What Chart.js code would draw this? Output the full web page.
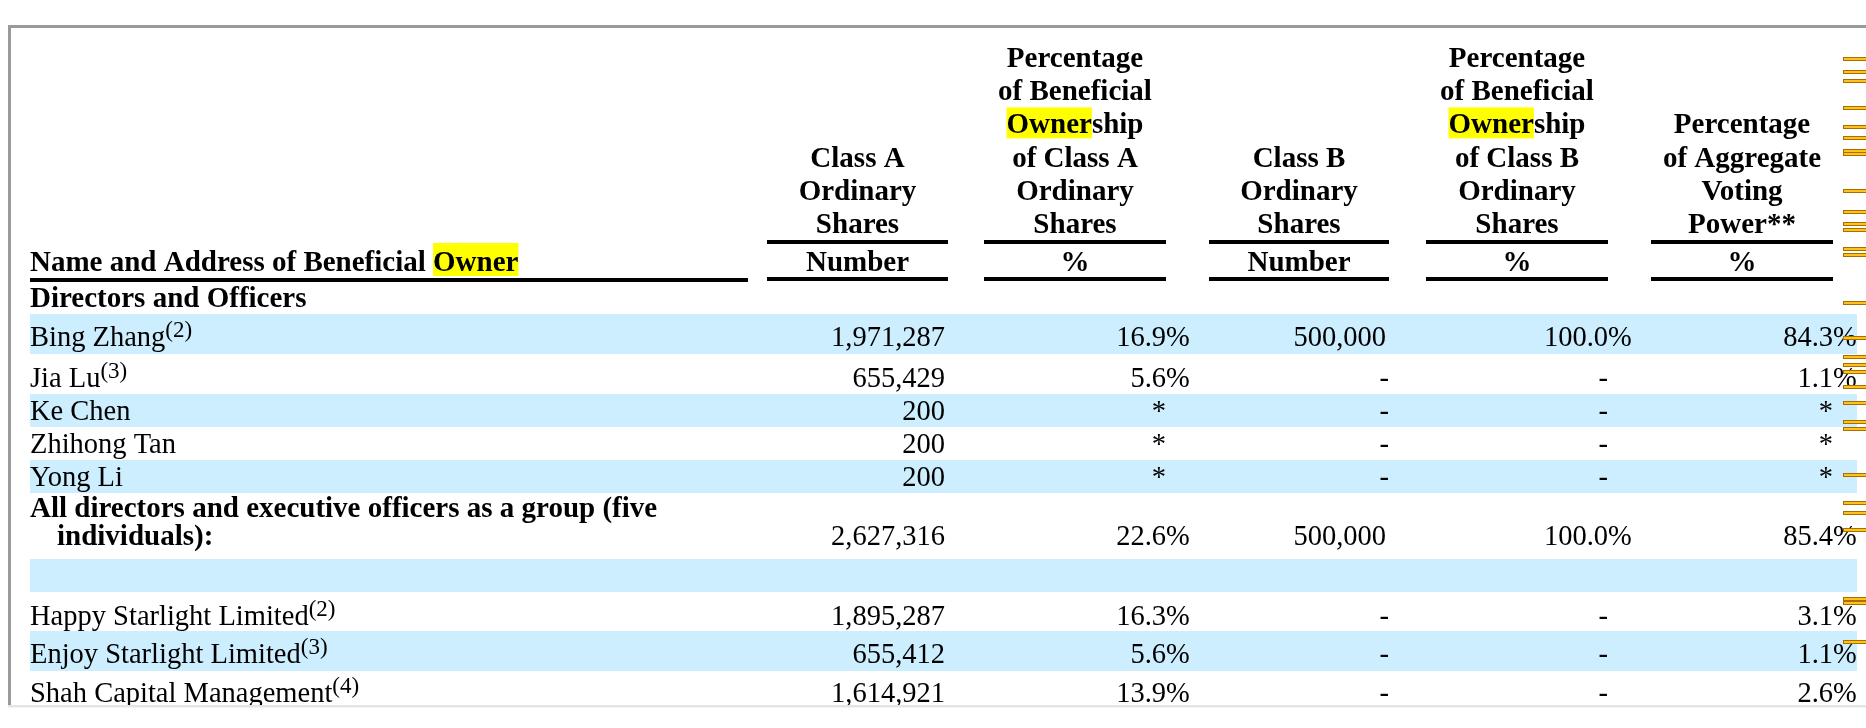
<!DOCTYPE html>
<html>
<head>
<meta charset="utf-8">
<script src="https://cdn.jsdelivr.net/npm/chart.js@4.4.1/dist/chart.umd.min.js"></script>
<style>
  html, body { margin: 0; padding: 0; background: #fff; overflow: hidden; }
  #wrap { position: relative; width: 1866px; height: 728px; }
</style>
</head>
<body>
<div id="wrap"><canvas id="table"></canvas></div>
<script>
// Table content
const headerLines = [
    ['Class A', 'Ordinary', 'Shares'],
    ['Percentage', 'of Beneficial', 'Ownership', 'of Class A', 'Ordinary', 'Shares'],
    ['Class B', 'Ordinary', 'Shares'],
    ['Percentage', 'of Beneficial', 'Ownership', 'of Class B', 'Ordinary', 'Shares'],
    ['Percentage', 'of Aggregate', 'Voting', 'Power**']
];
const unitLabels = ['Number', '%', 'Number', '%', '%'];
const nameHeader = 'Name and Address of Beneficial Owner';
const highlightWord = 'Owner';
const sectionLabel = 'Directors and Officers';

const owners = ['Bing Zhang', 'Jia Lu', 'Ke Chen', 'Zhihong Tan', 'Yong Li',
    'All directors and executive officers as a group (five', '',
    'Happy Starlight Limited', 'Enjoy Starlight Limited', 'Shah Capital Management'];
const ownerWrap = ['', '', '', '', '', 'individuals):', '', '', '', ''];
const footnotes = ['2', '3', '', '', '', '', '', '2', '3', '4'];
const boldRows = [false, false, false, false, false, true, false, false, false, false];

const classAShares = [1971287, 655429, 200, 200, 200, 2627316, null, 1895287, 655412, 1614921];
const classAPct = [16.9, 5.6, '*', '*', '*', 22.6, null, 16.3, 5.6, 13.9];
const classBShares = [500000, '-', '-', '-', '-', 500000, null, '-', '-', '-'];
const classBPct = [100.0, '-', '-', '-', '-', 100.0, null, '-', '-', '-'];
const votingPower = [84.3, 1.1, '*', '*', '*', 85.4, null, 3.1, 1.1, 2.6];

const columnValues = [classAShares, classAPct, classBShares, classBPct, votingPower];
const columnKinds = ['shares', 'pct', 'shares', 'pct', 'pct'];

// search hit marks along the right edge of the viewer
const searchHits = [59, 72, 81, 108, 127, 138, 151, 154, 191, 212, 224, 230, 249, 255, 303, 338,
    357, 365, 372, 387, 403, 422, 429, 475, 503, 513, 530, 599, 603, 642];

// Layout (page units, scales map them 1:1)
const W = 1866, H = 728;
const FONT = '"Liberation Serif", "Times New Roman", serif';
const FS = 28.5, FSB = 29;
const nameX = 30, indentX = 57;
const colLeft = [767, 984, 1209, 1426, 1651];
const colRight = [948, 1166, 1389, 1608, 1833];
const nameRuleEnd = 748;
const headLastBase = 233, headLH = 33.2;
const unitBase = 271, ruleTop = 240, ruleBottom = 277, ruleW = 4;
const sectionBase = 307;
const rowTop0 = 314;
const rowHeights = [40, 40, 33, 33, 33, 66, 33, 39, 40, 40];
const baseOffsets = [32, 33, 26, 26, 26, 52, 0, 33, 32, 31];
const bandLeft = 30, bandRight = 1857;
const clipTop = 28, clipBottom = 705;

const rowTops = rowHeights.map((h, i) => rowTop0 + rowHeights.slice(0, i).reduce((a, b) => a + b, 0));

// shaded bands: every other row, one dataset per band height
const shaded = owners.map((_, i) => i).filter(i => i % 2 === 0);
const bandHeights = [...new Set(shaded.map(i => rowHeights[i]))];
const bandSets = bandHeights.map(h => ({
    data: shaded.filter(i => rowHeights[i] === h).map(i => ({ y: rowTops[i] + h / 2, x: [bandLeft, bandRight] })),
    backgroundColor: '#cceeff',
    borderWidth: 0,
    barThickness: h,
    grouped: false,
    inflateAmount: 0
}));

const fmtShares = v => v.toLocaleString('en-US');

const tablePlugin = {
    id: 'tableText',
    afterDatasetsDraw(chart) {
        const ctx = chart.ctx;
        const xs = chart.scales.x, ys = chart.scales.y;
        const px = v => xs.getPixelForValue(v);
        const py = v => ys.getPixelForValue(v);
        ctx.save();
        ctx.beginPath();
        ctx.rect(px(0), py(clipTop), px(W) - px(0), py(clipBottom) - py(clipTop));
        ctx.clip();
        ctx.fillStyle = '#000';
        ctx.textBaseline = 'alphabetic';

        // column headings
        ctx.font = `bold ${FSB}px ${FONT}`;
        ctx.textAlign = 'center';
        headerLines.forEach((lines, c) => {
            const cx = (colLeft[c] + colRight[c]) / 2;
            lines.forEach((txt, k) => {
                const base = headLastBase - (lines.length - 1 - k) * headLH;
                if (txt.startsWith(highlightWord)) {
                    const full = ctx.measureText(txt).width;
                    const part = ctx.measureText(highlightWord).width;
                    ctx.fillStyle = '#ffff00';
                    ctx.fillRect(px(cx) - full / 2, py(base - 26), part, py(base + 5) - py(base - 26));
                    ctx.fillStyle = '#000';
                }
                ctx.fillText(txt, px(cx), py(base));
            });
            ctx.fillText(unitLabels[c], px(cx), py(unitBase));
            ctx.fillRect(px(colLeft[c]), py(ruleTop), px(colRight[c]) - px(colLeft[c]), ruleW);
            ctx.fillRect(px(colLeft[c]), py(ruleBottom), px(colRight[c]) - px(colLeft[c]), ruleW);
        });

        // name heading with highlighted word
        ctx.textAlign = 'left';
        const lead = nameHeader.slice(0, nameHeader.lastIndexOf(highlightWord));
        const hx = px(nameX) + ctx.measureText(lead).width;
        ctx.fillStyle = '#ffff00';
        ctx.fillRect(hx, py(unitBase - 28), ctx.measureText(highlightWord).width, py(unitBase + 5) - py(unitBase - 28));
        ctx.fillStyle = '#000';
        ctx.fillText(nameHeader, px(nameX), py(unitBase));
        ctx.fillRect(px(nameX), py(ruleBottom + 1), px(nameRuleEnd) - px(nameX), ruleW);
        ctx.fillText(sectionLabel, px(nameX), py(sectionBase));

        // body rows
        owners.forEach((name, i) => {
            if (!name) return;
            const last = rowTops[i] + baseOffsets[i];
            ctx.textAlign = 'left';
            ctx.font = boldRows[i] ? `bold ${FSB}px ${FONT}` : `${FS}px ${FONT}`;
            if (ownerWrap[i]) {
                ctx.fillText(name, px(nameX), py(rowTops[i] + 24));
                ctx.fillText(ownerWrap[i], px(indentX), py(last));
            } else {
                ctx.fillText(name, px(nameX), py(last));
                if (footnotes[i]) {
                    const w = ctx.measureText(name).width;
                    ctx.font = `23px ${FONT}`;
                    ctx.fillText(`(${footnotes[i]})`, px(nameX) + w, py(last - 9));
                }
            }
            ctx.font = `${FS}px ${FONT}`;
            columnValues.forEach((vals, c) => {
                const v = vals[i];
                if (v === null || v === undefined) return;
                const r = px(colRight[c]);
                ctx.textAlign = 'right';
                if (typeof v === 'string') {
                    ctx.fillText(v, r, py(last));
                } else if (columnKinds[c] === 'shares') {
                    ctx.fillText(fmtShares(v), r - 3, py(last));
                } else {
                    ctx.fillText(v.toFixed(1), r, py(last));
                    ctx.textAlign = 'left';
                    ctx.fillText('%', r, py(last));
                }
            });
        });
        ctx.restore();
    },
    afterDraw(chart) {
        const ctx = chart.ctx;
        const xs = chart.scales.x, ys = chart.scales.y;
        const px = v => xs.getPixelForValue(v);
        const py = v => ys.getPixelForValue(v);
        ctx.save();
        // viewer frame
        ctx.fillStyle = '#9a9a9a';
        ctx.fillRect(px(8), py(25), px(W) - px(8), 3);
        ctx.fillRect(px(8), py(25), 3, py(clipBottom) - py(25));
        ctx.fillStyle = '#e4e4e4';
        ctx.fillRect(px(8), py(clipBottom), px(W) - px(8), 2);
        ctx.fillStyle = '#f3f3f3';
        ctx.fillRect(px(8), py(clipBottom + 2), px(W) - px(8), 1);
        // search hit marks
        searchHits.forEach(y => {
            ctx.fillStyle = '#a86f00';
            ctx.fillRect(px(1843), py(y) - 2, px(W) - px(1843), 4);
            ctx.fillStyle = '#ffc21a';
            ctx.fillRect(px(1844), py(y) - 1, px(W) - px(1844), 2);
        });
        ctx.restore();
    }
};

const canvas = document.getElementById('table');
canvas.width = W;
canvas.height = H;

new Chart(canvas, {
    type: 'bar',
    data: { datasets: bandSets },
    options: {
        indexAxis: 'y',
        responsive: false,
        animation: false,
        events: [],
        layout: { padding: 0 },
        plugins: { legend: { display: false }, tooltip: { enabled: false } },
        scales: {
            x: { type: 'linear', min: 0, max: W, offset: false, display: false },
            y: { type: 'linear', min: 0, max: H, reverse: true, offset: false, display: false }
        }
    },
    plugins: [tablePlugin]
});
</script>
</body>
</html>
